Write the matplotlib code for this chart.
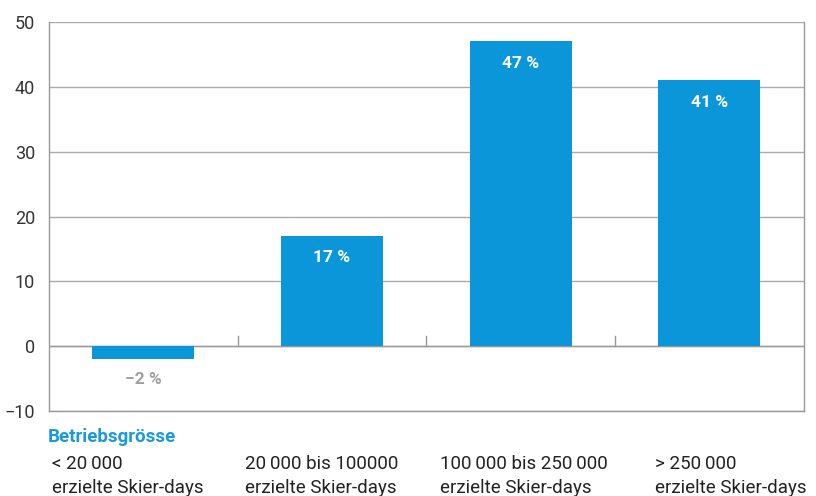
import matplotlib
matplotlib.use("Agg")
import matplotlib.pyplot as plt
import numpy as np

plt.rcParams['font.family'] = ['Roboto', 'DejaVu Sans']

categories = ["< 20\u2009000\nerzielte Skier-days",
              "20\u2009000 bis 100000\nerzielte Skier-days",
              "100\u2009000 bis 250\u2009000\nerzielte Skier-days",
              "> 250\u2009000\nerzielte Skier-days"]
values = [-2, 17, 47, 41]
value_labels = ["\u22122 %", "17 %", "47 %", "41 %"]
yticks = [-10, 0, 10, 20, 30, 40, 50]
ytick_labels = ["\u221210", "0", "10", "20", "30", "40", "50"]
axis_title = "Betriebsgrösse"

blue = "#0a96d8"
gray = "#a0a0a0"

fig = plt.figure(figsize=(8.16, 4.96), dpi=100)
ax = fig.add_axes([0.060, 0.1714, 0.925, 0.7842])

x = np.arange(len(values))
ax.bar(x, values, width=0.54, color=blue, zorder=3)
ax.set_xlim(-0.5, len(values) - 0.5)
ax.set_ylim(-10, 50)
ax.set_yticks(yticks)
ax.set_yticklabels(ytick_labels, fontsize=13, color="#333333")
ax.tick_params(axis='y', length=0, pad=10)
ax.set_xticks([])
ax.grid(axis='y', color="#aaaaaa", linewidth=1, zorder=0)
ax.axhline(0, color="#999999", linewidth=1, zorder=2)
for s in ax.spines.values():
    s.set_color("#999999")
    s.set_linewidth(1)
ax.spines['top'].set_visible(False)

# small ticks at category boundaries on zero line
for b in np.arange(0.5, len(values) - 0.5, 1.0):
    ax.plot([b, b], [0, 1.6], color="#999999", linewidth=1, zorder=2)

for xi, v, lab in zip(x, values, value_labels):
    if v >= 0:
        ax.text(xi, v - 2.2, lab, ha='center', va='top', color='white',
                fontsize=12.5, fontweight='bold', zorder=4)
    else:
        ax.text(xi, v - 2.0, lab, ha='center', va='top', color=gray,
                fontsize=12.5, fontweight='bold', zorder=4)

fig.text(48 / 816, 1 - 437 / 496, axis_title, color="#1a9ad6", fontsize=13.5,
         fontweight='bold', ha='left', va='center')
label_x = [52, 245, 440, 655]
for lx, c in zip(label_x, categories):
    fig.text(lx / 816, 1 - 455 / 496, c, ha='left', va='top', fontsize=13.5,
             color="#222222", linespacing=1.4)

fig.savefig("out.png", dpi=100)
